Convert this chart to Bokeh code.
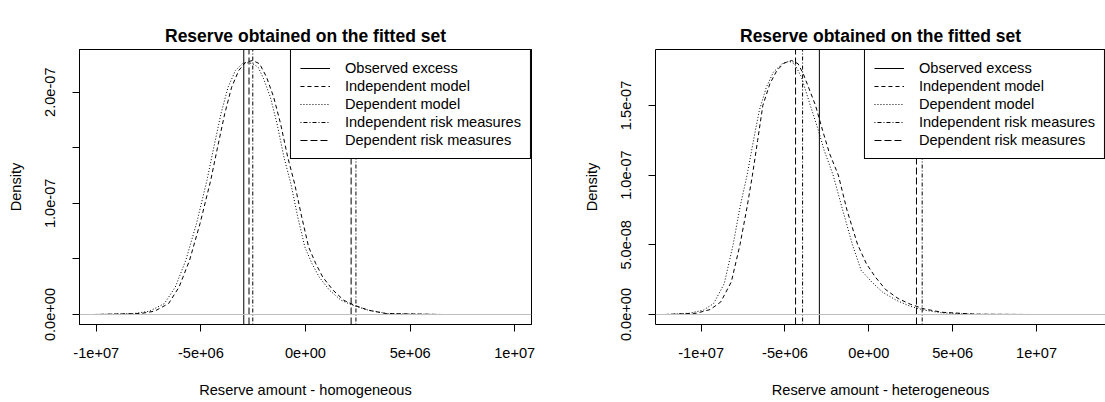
from bokeh.plotting import figure
from bokeh.models import Range1d, FixedTicker, Span, Legend, LegendItem, LinearAxis
from bokeh.layouts import row
from bokeh.embed import file_html
from bokeh.resources import INLINE

# ---------------- data ----------------
TITLE = "Reserve obtained on the fitted set"
LEGEND_LABELS = ["Observed excess", "Independent model", "Dependent model",
                 "Independent risk measures", "Dependent risk measures"]
X_LABELS = ["Reserve amount - homogeneous", "Reserve amount - heterogeneous"]
Y_LABEL = "Density"

x_ticks = [-1e7, -5e6, 0, 5e6, 1e7]
x_tick_labels = ["-1e+07", "-5e+06", "0e+00", "5e+06", "1e+07"]
hom_y_ticks = [0, 5e-8, 1e-7, 1.5e-7, 2e-7]
hom_y_tick_labels = ["0.0e+00", "", "1.0e-07", "", "2.0e-07"]
het_y_ticks = [0, 5e-8, 1e-7, 1.5e-7]
het_y_tick_labels = ["0.0e+00", "5.0e-08", "1.0e-07", "1.5e-07"]

# homogeneous panel: density of reserve, independent model
hom_ind_x = [-1.014e7, -7.88e6, -7.21e6, -6.54e6, -6.04e6, -5.54e6, -5.04e6, -4.53e6, -4.20e6,
             -3.86e6, -3.53e6, -3.19e6, -2.86e6, -2.52e6, -2.19e6, -1.86e6, -1.52e6, -1.19e6,
             -0.85e6, -0.52e6, -0.18e6, 0.15e6, 0.49e6, 0.82e6, 1.32e6, 1.83e6, 2.33e6, 3.00e6,
             3.83e6, 6.55e6]
hom_ind_y = [0, 0.09e-8, 0.30e-8, 0.99e-8, 2.48e-8, 4.88e-8, 8.18e-8, 12.07e-8, 15.06e-8,
             18.06e-8, 20.45e-8, 21.95e-8, 22.70e-8, 22.85e-8, 22.55e-8, 21.35e-8, 19.55e-8,
             17.16e-8, 14.16e-8, 11.77e-8, 8.77e-8, 6.07e-8, 4.58e-8, 3.38e-8, 2.18e-8, 1.28e-8,
             0.84e-8, 0.39e-8, 0.09e-8, 0]
# homogeneous panel: density of reserve, dependent model
hom_dep_x = [-1.014e7, -8.20e6, -7.45e6, -6.74e6, -6.22e6, -5.72e6, -5.21e6, -4.71e6, -4.38e6,
             -4.04e6, -3.70e6, -3.35e6, -3.00e6, -2.70e6, -2.45e6, -2.25e6, -2.00e6, -1.68e6,
             -1.36e6, -1.03e6, -0.70e6, -0.37e6, -0.03e6, 0.31e6, 0.65e6, 1.15e6, 1.70e6, 2.25e6,
             3.00e6, 3.90e6, 6.55e6]
hom_dep_y = [0, 0.09e-8, 0.30e-8, 0.99e-8, 2.48e-8, 4.88e-8, 8.18e-8, 12.07e-8, 15.06e-8,
             18.06e-8, 20.45e-8, 21.95e-8, 22.60e-8, 22.65e-8, 22.50e-8, 22.20e-8, 21.20e-8,
             19.55e-8, 17.16e-8, 14.16e-8, 11.77e-8, 8.77e-8, 6.07e-8, 4.58e-8, 3.38e-8, 2.18e-8,
             1.28e-8, 0.84e-8, 0.39e-8, 0.09e-8, 0]
hom_observed = [-2.95e6]
hom_ind_risk = [-2.52e6, 2.41e6]
hom_dep_risk = [-2.70e6, 2.18e6]

# heterogeneous panel
het_ind_x = [-1.217e7, -1.029e7, -9.45e6, -8.83e6, -8.20e6, -7.68e6, -7.26e6, -6.94e6, -6.63e6,
             -6.32e6, -5.90e6, -5.48e6, -5.06e6, -4.60e6, -4.22e6, -3.91e6, -3.60e6, -3.18e6,
             -2.76e6, -2.34e6, -1.82e6, -1.30e6, -0.67e6, -0.15e6, 0.38e6, 1.00e6, 1.74e6,
             2.47e6, 3.31e6, 4.35e6, 6.44e6, 9.69e6]
het_ind_y = [0, 0.09e-8, 0.36e-8, 0.90e-8, 2.34e-8, 5.02e-8, 7.71e-8, 10.0e-8, 12.49e-8,
             15.0e-8, 16.55e-8, 17.51e-8, 18.03e-8, 18.22e-8, 17.99e-8, 17.27e-8, 16.31e-8,
             15.0e-8, 13.21e-8, 11.54e-8, 10.0e-8, 7.47e-8, 5.02e-8, 3.65e-8, 2.70e-8, 1.79e-8,
             1.15e-8, 0.74e-8, 0.40e-8, 0.16e-8, 0.02e-8, 0]
het_dep_x = [-1.217e7, -1.071e7, -9.87e6, -9.25e6, -8.62e6, -8.09e6, -7.68e6, -7.26e6, -6.84e6,
             -6.53e6, -6.11e6, -5.69e6, -5.17e6, -4.75e6, -4.43e6, -4.02e6, -3.49e6, -3.07e6,
             -2.66e6, -2.13e6, -1.61e6, -0.98e6, -0.46e6, 0.17e6, 0.80e6, 1.63e6, 2.47e6,
             3.31e6, 4.35e6, 6.44e6, 9.69e6]
het_dep_y = [0, 0.09e-8, 0.31e-8, 0.79e-8, 2.22e-8, 5.02e-8, 7.71e-8, 10.0e-8, 12.73e-8,
             14.64e-8, 16.31e-8, 17.39e-8, 17.99e-8, 18.17e-8, 17.99e-8, 17.03e-8, 15.0e-8,
             13.44e-8, 11.77e-8, 10.0e-8, 7.71e-8, 5.02e-8, 3.17e-8, 2.34e-8, 1.62e-8, 1.02e-8,
             0.59e-8, 0.31e-8, 0.12e-8, 0.02e-8, 0]
het_observed = [-2.95e6]
het_ind_risk = [-3.95e6, 3.18e6]
het_dep_risk = [-4.37e6, 2.84e6]

# ---------------- style ----------------
FONT = "Liberation Sans"
FS = "14.6px"
DASH_OBS, DASH_IND, DASH_DEP, DASH_IRM, DASH_DRM = "solid", "4 3", "1 2", "1 2 4 2", "7 3"


def style_axis(ax, label, standoff, label_standoff):
    ax.axis_label = label
    ax.axis_label_text_font = FONT
    ax.axis_label_text_font_size = FS
    ax.axis_label_text_font_style = "normal"
    ax.axis_label_text_color = "black"
    ax.axis_label_standoff = label_standoff
    ax.major_label_text_font = FONT
    ax.major_label_text_font_size = FS
    ax.major_label_text_color = "black"
    ax.major_label_standoff = standoff
    ax.major_tick_out = 7
    ax.major_tick_in = 0
    ax.major_tick_line_color = "black"
    ax.minor_tick_line_color = None
    ax.axis_line_color = "black"


def panel(width, bl, br, xr, yr, yticks, ylabels, xlabel,
          ind_x, ind_y, dep_x, dep_y, obs, irm, drm, full_box):
    p = figure(width=width, height=402, x_range=Range1d(*xr), y_range=Range1d(*yr),
               output_backend="svg", toolbar_location=None,
               min_border_left=bl, min_border_right=br, min_border_top=49,
               min_border_bottom=78)
    p.grid.visible = False
    p.background_fill_color = "white"
    p.border_fill_color = "white"

    p.title.text = TITLE
    p.title.align = "center"
    p.title.vertical_align = "top"
    p.title.text_font = FONT
    p.title.text_font_size = "17.5px"
    p.title.text_font_style = "bold"
    p.title.text_color = "black"
    p.title.standoff = 4

    xa = p.below[0]
    ya = p.left[0]
    xa.ticker = FixedTicker(ticks=x_ticks)
    xa.major_label_overrides = dict(zip(x_ticks, x_tick_labels))
    style_axis(xa, xlabel, 16, 21)
    ya.ticker = FixedTicker(ticks=yticks)
    ya.major_label_overrides = dict(zip(yticks, ylabels))
    ya.major_label_orientation = "vertical"
    style_axis(ya, Y_LABEL, 17, 19)

    # top edge of the box: an axis without ticks; its (empty) tick space lifts the title
    p.outline_line_color = "black" if full_box else None
    top = LinearAxis(ticker=FixedTicker(ticks=[]), major_tick_line_color="black",
                     minor_tick_line_color=None, major_label_text_font_size="0px",
                     major_label_standoff=0, major_tick_out=22, major_tick_in=0,
                     axis_line_color="black")
    p.add_layout(top, "above")

    p.add_layout(Span(location=0, dimension="width", line_color="#bebebe", line_width=1))

    r_ind = p.line(ind_x, ind_y, line_color="black", line_width=1, line_dash=DASH_IND)
    r_dep = p.line(dep_x, dep_y, line_color="black", line_width=1, line_dash=DASH_DEP)

    y0, y1 = yr

    def vlines(xs, dash):
        return p.segment(x0=xs, x1=xs, y0=[y0] * len(xs), y1=[y1] * len(xs),
                         line_color="black", line_width=1, line_dash=dash)

    k_obs = vlines(obs, DASH_OBS)
    k_irm = vlines(irm, DASH_IRM)
    k_drm = vlines(drm, DASH_DRM)

    items = [LegendItem(label=LEGEND_LABELS[0], renderers=[k_obs]),
             LegendItem(label=LEGEND_LABELS[1], renderers=[r_ind]),
             LegendItem(label=LEGEND_LABELS[2], renderers=[r_dep]),
             LegendItem(label=LEGEND_LABELS[3], renderers=[k_irm]),
             LegendItem(label=LEGEND_LABELS[4], renderers=[k_drm])]
    leg = Legend(items=items, location="top_right", margin=0, padding=9, spacing=0,
                 label_height=18, glyph_height=18, glyph_width=30, label_standoff=15,
                 border_line_color="black", border_line_width=1, border_line_alpha=1,
                 background_fill_color="white", background_fill_alpha=1,
                 label_text_font=FONT, label_text_font_size=FS, label_text_color="black")
    p.add_layout(leg)
    return p


p1 = panel(552, 79, 21, (-1.08e7, 1.08e7), (-0.0898e-7, 2.384e-7), hom_y_ticks,
           hom_y_tick_labels, X_LABELS[0], hom_ind_x, hom_ind_y, hom_dep_x, hom_dep_y,
           hom_observed, hom_ind_risk, hom_dep_risk, True)
p2 = panel(553, 103, 0, (-1.272e7, 1.411e7), (-0.0717e-7, 1.901e-7), het_y_ticks,
           het_y_tick_labels, X_LABELS[1], het_ind_x, het_ind_y, het_dep_x, het_dep_y,
           het_observed, het_ind_risk, het_dep_risk, False)

layout = row(p1, p2, spacing=0)
open("out.html", "w").write(file_html(layout, INLINE))
